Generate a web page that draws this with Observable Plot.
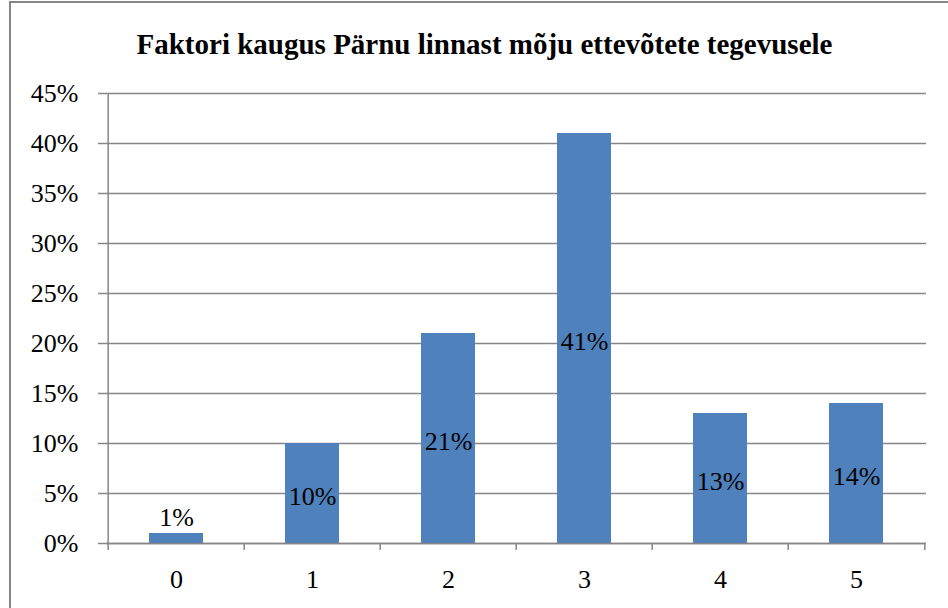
<!DOCTYPE html>
<html>
<head>
<meta charset="utf-8">
<script src="https://cdn.jsdelivr.net/npm/d3@7"></script>
<script src="https://cdn.jsdelivr.net/npm/@observablehq/plot@0.6"></script>
<style>
  html, body { margin: 0; padding: 0; background: #fff; }
  #wrap { position: relative; width: 948px; height: 608px; overflow: hidden; }
  #border { position: absolute; left: 9px; top: 1px; width: 960px; height: 640px; border: 2px solid #868686; box-sizing: border-box; }
</style>
</head>
<body>
<div id="wrap"><div id="border"></div></div>
<script>
const title = "Faktori kaugus Pärnu linnast mõju ettevõtete tegevusele";
const categories = ["0", "1", "2", "3", "4", "5"];
const values = [1, 10, 21, 41, 13, 14];
const yTicks = [0, 5, 10, 15, 20, 25, 30, 35, 40, 45];

const data = categories.map((c, i) => ({cat: c, v: values[i]}));
const step = 820 / categories.length;
const font = "Liberation Serif, DejaVu Serif, serif";
const grid = "#868686";

const chart = Plot.plot({
  width: 948,
  height: 608,
  marginLeft: 106,
  marginRight: 22,
  marginTop: 93,
  marginBottom: 65,
  style: {fontFamily: font, fontSize: "26px", color: "#000", background: "transparent"},
  x: {type: "band", domain: categories, paddingInner: 0.605, paddingOuter: 0.3025, label: null},
  y: {domain: [0, 45], label: null},
  marks: [
    Plot.gridY(yTicks, {stroke: grid, strokeOpacity: 1, strokeWidth: 1.5}),
    Plot.axisY(yTicks, {tickSize: 8, tickPadding: 20, stroke: grid, strokeWidth: 1.5, tickFormat: d => d + "%", fontSize: 26, fontFamily: font, label: null}),
    Plot.axisX({tickSize: 0, tickPadding: 26, fontSize: 26, fontFamily: font, label: null}),
    Plot.barY(data, {x: "cat", y: "v", fill: "#4f81bd"}),
    Plot.ruleX(categories.slice(0, 1), {x: d => d, dx: -step / 2, y1: -0.7, y2: 45, stroke: grid, strokeWidth: 1.5}),
    Plot.ruleX(categories.slice(1), {x: d => d, dx: -step / 2, y1: -0.7, y2: 0, stroke: grid, strokeWidth: 1.5}),
    Plot.ruleX(categories.slice(-1), {x: d => d, dx: step / 2, y1: -0.7, y2: 0, stroke: grid, strokeWidth: 1.5}),
    Plot.ruleY([0], {stroke: grid, strokeWidth: 1.5}),
    Plot.text(data.filter(d => d.v >= 5), {x: "cat", y: d => d.v / 2, text: d => d.v + "%", dy: 3, fill: "#000", fontSize: 26, fontFamily: font}),
    Plot.text(data.filter(d => d.v < 5), {x: "cat", y: "v", text: d => d.v + "%", dy: -16, fill: "#000", fontSize: 26, fontFamily: font}),
    Plot.text([title], {frameAnchor: "top", text: d => d, dx: -32, dy: -40, lineAnchor: "bottom", fontWeight: "bold", fontSize: 29, fontFamily: font, fill: "#000"})
  ]
});
document.getElementById("wrap").prepend(chart);
</script>
</body>
</html>
